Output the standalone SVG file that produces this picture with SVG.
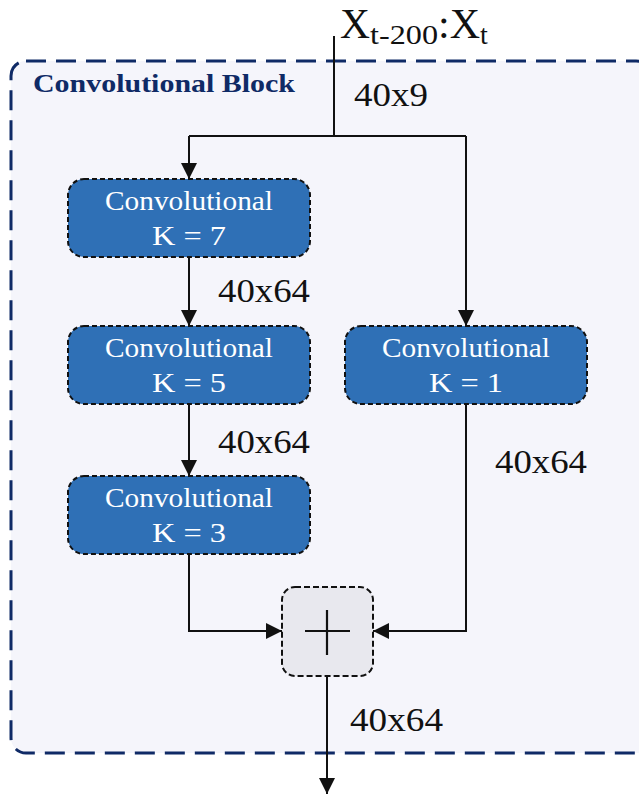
<svg xmlns="http://www.w3.org/2000/svg" width="639" height="794" viewBox="0 0 639 794">
<defs>
<style>
.serif{font-family:"Liberation Serif","DejaVu Serif",serif;}
.lbl{font-size:34px;fill:#111;}
.conv rect{fill:#2f70b6;stroke:#111;stroke-width:2;stroke-dasharray:5 3;}
.conv text{font-size:27px;fill:#fff;text-anchor:middle;}
.wire{fill:none;stroke:#111;stroke-width:2;}
</style>
<marker id="arr" viewBox="0 0 10 10" refX="10" refY="5" markerWidth="16" markerHeight="16" markerUnits="userSpaceOnUse" orient="auto">
<path d="M0,0 L10,5 L0,10 z" fill="#111"/>
</marker>
</defs>
<rect width="639" height="794" fill="#fff"/>
<g id="block">
<rect x="11" y="61" width="640" height="692" rx="15" fill="#f5f5fb" stroke="#0f2a66" stroke-width="3" stroke-dasharray="20 10"/>
<text class="serif" x="33" y="92" font-size="25" font-weight="bold" fill="#0f2a66" textLength="262" lengthAdjust="spacingAndGlyphs">Convolutional Block</text>
</g>
<g id="input">
<text class="serif" x="340" y="38" font-size="42" fill="#111"><tspan textLength="30" lengthAdjust="spacingAndGlyphs">X</tspan><tspan font-size="28" dy="6" textLength="68" lengthAdjust="spacingAndGlyphs">t-200</tspan><tspan dy="-6" textLength="42" lengthAdjust="spacingAndGlyphs">:X</tspan><tspan font-size="28" dy="6">t</tspan></text>
</g>
<g id="connectors">
<path class="wire" d="M334,36 V136"/>
<path class="wire" d="M189,136 H466"/>
<path class="wire" d="M189,136 V179" marker-end="url(#arr)"/>
<path class="wire" d="M466,136 V326" marker-end="url(#arr)"/>
<path class="wire" d="M189,257 V326" marker-end="url(#arr)"/>
<path class="wire" d="M189,404 V476" marker-end="url(#arr)"/>
<path class="wire" d="M189,554 V631 H282" marker-end="url(#arr)"/>
<path class="wire" d="M466,404 V631 H373" marker-end="url(#arr)"/>
<path class="wire" d="M327,676 V794" marker-end="url(#arr)"/>
<text class="serif lbl" x="354" y="106" textLength="74" lengthAdjust="spacingAndGlyphs">40x9</text>
<text class="serif lbl" x="218" y="302" textLength="92" lengthAdjust="spacingAndGlyphs">40x64</text>
<text class="serif lbl" x="218" y="453" textLength="92" lengthAdjust="spacingAndGlyphs">40x64</text>
<text class="serif lbl" x="495" y="473" textLength="92" lengthAdjust="spacingAndGlyphs">40x64</text>
<text class="serif lbl" x="350" y="731" textLength="93" lengthAdjust="spacingAndGlyphs">40x64</text>
</g>
<g id="conv7" class="conv serif">
<rect x="68" y="179" width="242" height="78" rx="16"/>
<text x="189" y="210" textLength="168" lengthAdjust="spacingAndGlyphs">Convolutional</text>
<text x="189" y="245" textLength="74" lengthAdjust="spacingAndGlyphs">K = 7</text>
</g>
<g id="conv5" class="conv serif">
<rect x="68" y="326" width="242" height="78" rx="16"/>
<text x="189" y="357" textLength="168" lengthAdjust="spacingAndGlyphs">Convolutional</text>
<text x="189" y="392" textLength="74" lengthAdjust="spacingAndGlyphs">K = 5</text>
</g>
<g id="conv3" class="conv serif">
<rect x="68" y="476" width="242" height="78" rx="16"/>
<text x="189" y="507" textLength="168" lengthAdjust="spacingAndGlyphs">Convolutional</text>
<text x="189" y="542" textLength="74" lengthAdjust="spacingAndGlyphs">K = 3</text>
</g>
<g id="conv1" class="conv serif">
<rect x="345" y="326" width="242" height="78" rx="16"/>
<text x="466" y="357" textLength="168" lengthAdjust="spacingAndGlyphs">Convolutional</text>
<text x="466" y="392" textLength="74" lengthAdjust="spacingAndGlyphs">K = 1</text>
</g>
<g id="sum">
<rect x="282" y="587" width="91" height="89" rx="13" fill="#e8e8ee" stroke="#111" stroke-width="2" stroke-dasharray="6 3"/>
<path d="M305,631 H350 M327,610 V655" stroke="#111" stroke-width="2.2" fill="none"/>
</g>
</svg>
